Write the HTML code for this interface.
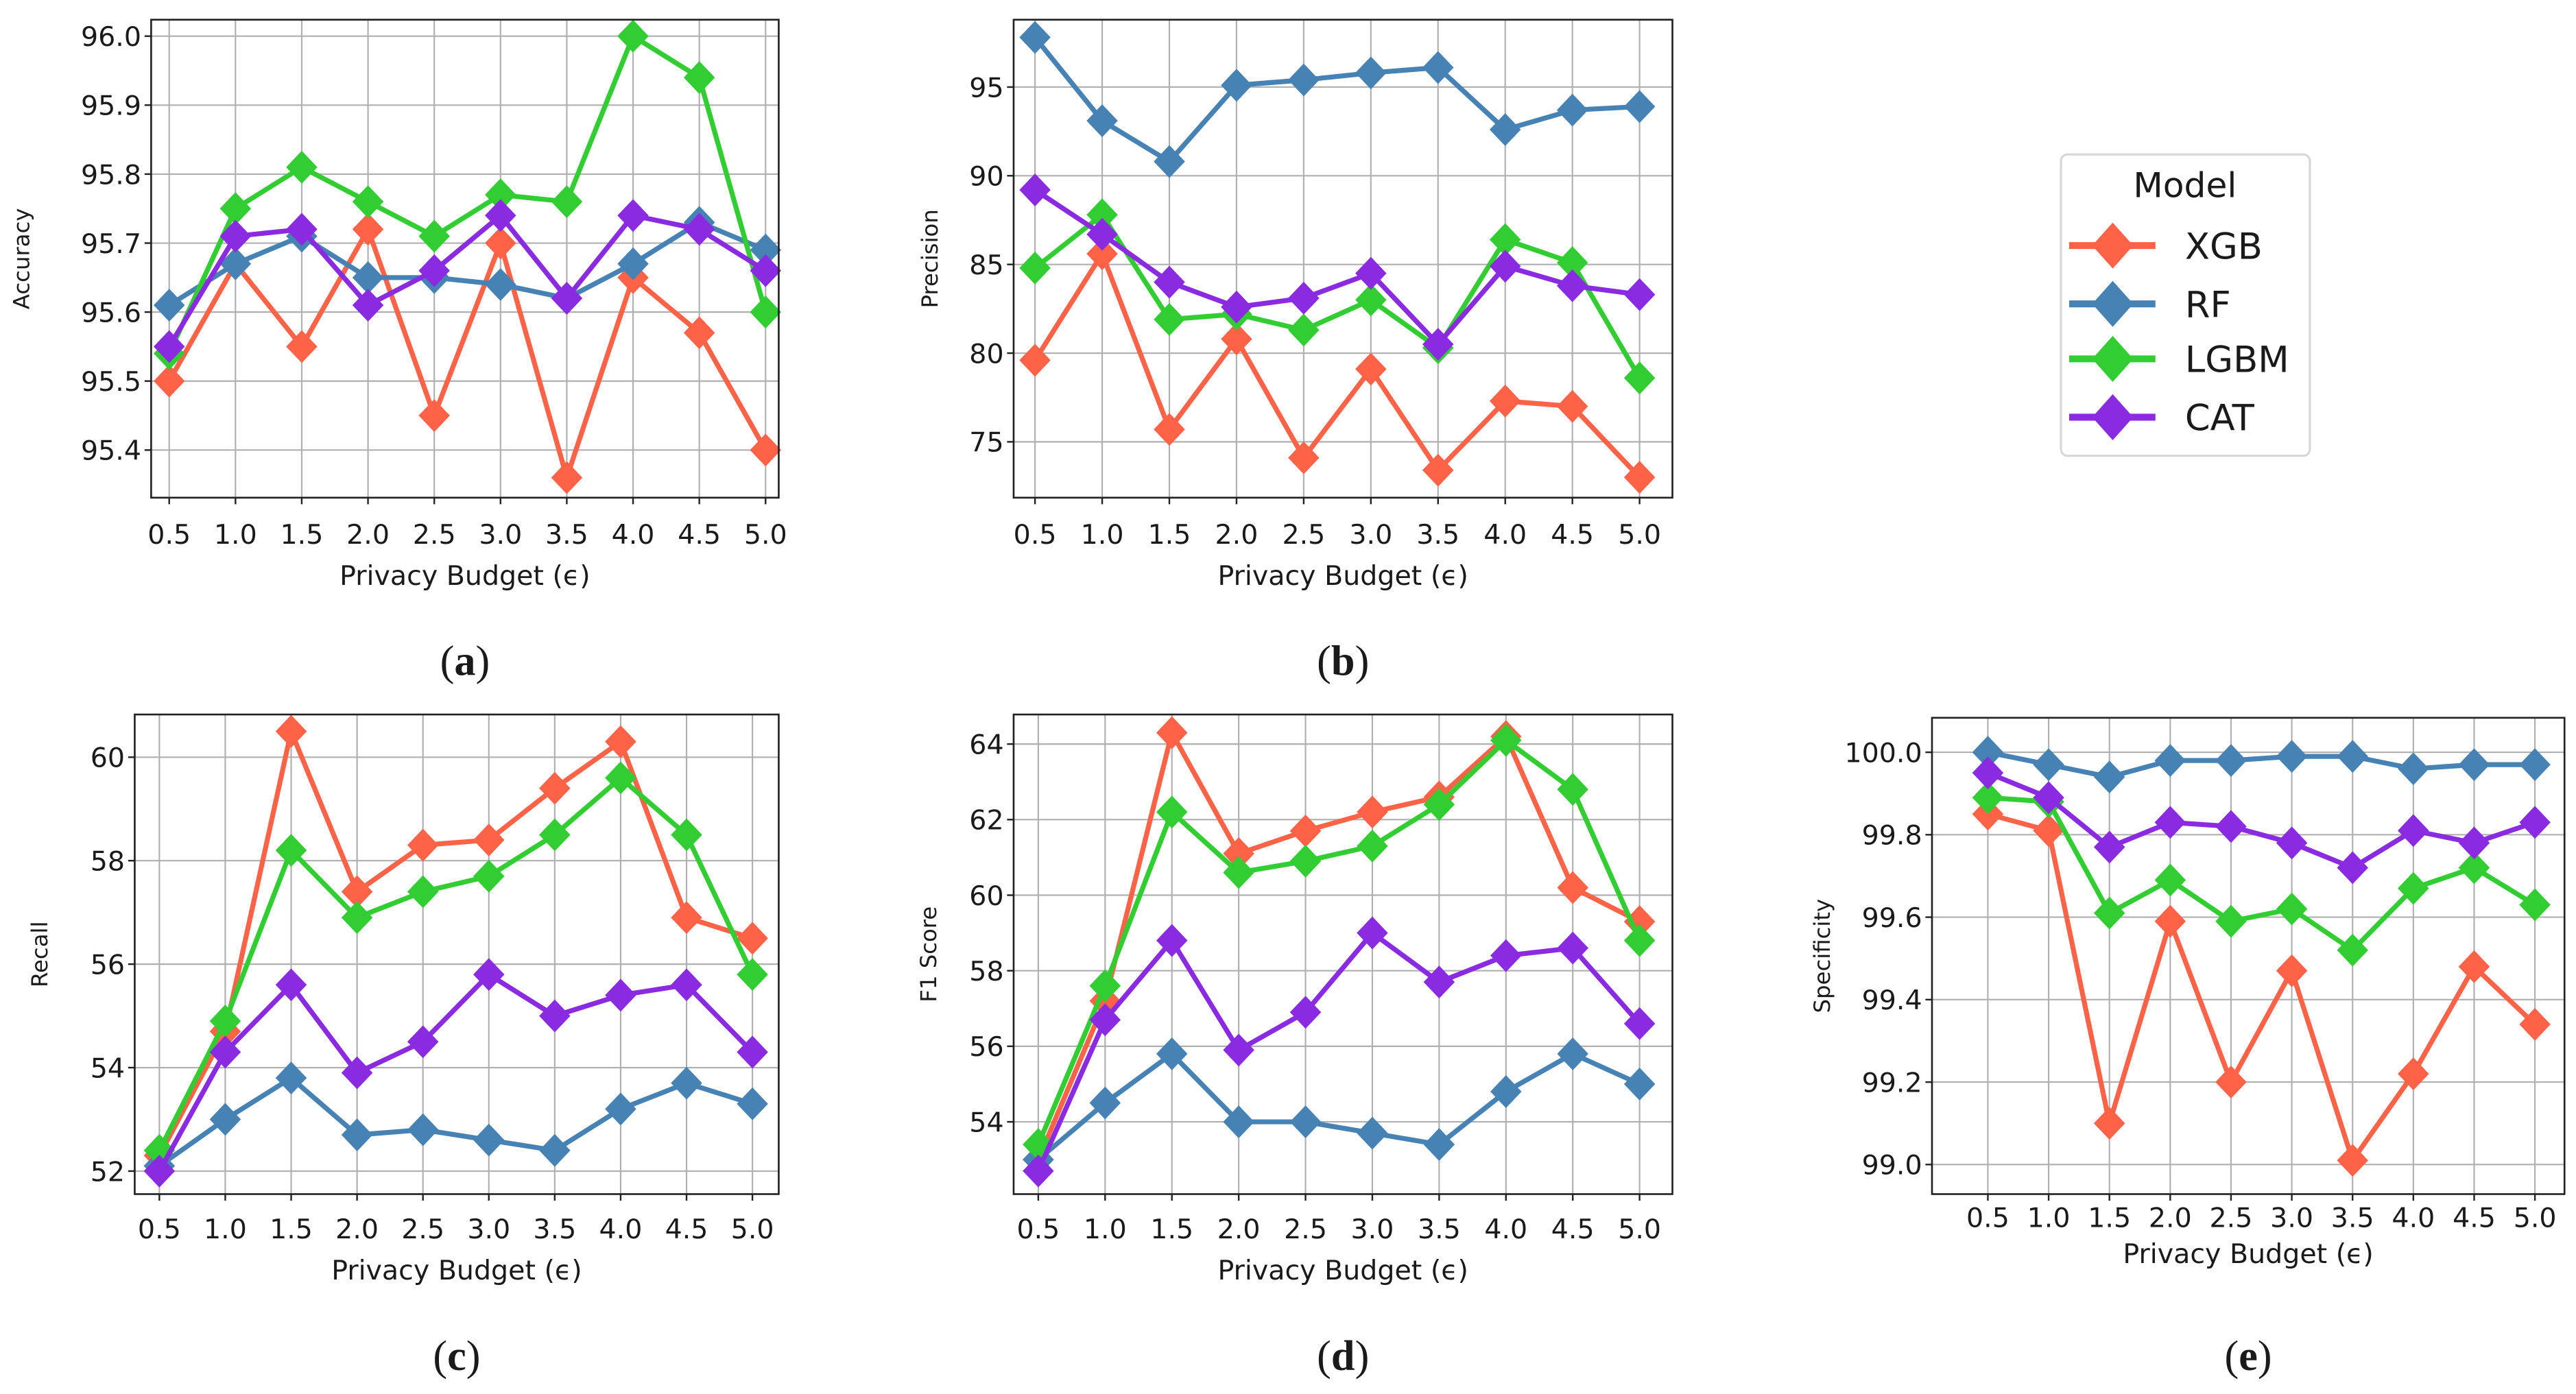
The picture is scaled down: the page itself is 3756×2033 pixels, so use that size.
<!DOCTYPE html>
<html><head><meta charset="utf-8">
<style>
html,body{margin:0;padding:0;background:#fff;}
svg{display:block;}
text{font-family:"DejaVu Sans","Liberation Sans",sans-serif;fill:#1a1a1a;}
.cap{font-family:"Liberation Serif",serif;font-size:26px;}
</style></head>
<body>
<svg id="fig" width="3756" height="2033" viewBox="0 0 1568 848.7" xmlns="http://www.w3.org/2000/svg"></svg>
<script>
const categories = [0.5,1.0,1.5,2.0,2.5,3.0,3.5,4.0,4.5,5.0];
const xTickLabels = ["0.5","1.0","1.5","2.0","2.5","3.0","3.5","4.0","4.5","5.0"];
const models = ["XGB","RF","LGBM","CAT"];
const colors = ["#ff6347","#4682b4","#32cd32","#8a2be2"];

const accXGB = [95.50,95.67,95.55,95.72,95.45,95.70,95.36,95.65,95.57,95.40];
const accRF = [95.61,95.67,95.71,95.65,95.65,95.64,95.62,95.67,95.73,95.69];
const accLGBM = [95.54,95.75,95.81,95.76,95.71,95.77,95.76,96.00,95.94,95.60];
const accCAT = [95.55,95.71,95.72,95.61,95.66,95.74,95.62,95.74,95.72,95.66];
const accTicks = [95.4,95.5,95.6,95.7,95.8,95.9,96.0];

const preXGB = [79.6,85.6,75.7,80.8,74.1,79.1,73.4,77.3,77.0,73.0];
const preRF = [97.8,93.1,90.8,95.1,95.4,95.8,96.1,92.6,93.7,93.9];
const preLGBM = [84.8,87.8,81.9,82.2,81.3,83.0,80.3,86.4,85.1,78.6];
const preCAT = [89.2,86.7,84.0,82.6,83.1,84.5,80.5,84.9,83.8,83.3];
const preTicks = [75,80,85,90,95];

const recXGB = [52.3,54.7,60.5,57.4,58.3,58.4,59.4,60.3,56.9,56.5];
const recRF = [52.1,53.0,53.8,52.7,52.8,52.6,52.4,53.2,53.7,53.3];
const recLGBM = [52.4,54.9,58.2,56.9,57.4,57.7,58.5,59.6,58.5,55.8];
const recCAT = [52.0,54.3,55.6,53.9,54.5,55.8,55.0,55.4,55.6,54.3];
const recTicks = [52,54,56,58,60];

const f1XGB = [53.0,57.2,64.3,61.1,61.7,62.2,62.6,64.2,60.2,59.3];
const f1RF = [53.0,54.5,55.8,54.0,54.0,53.7,53.4,54.8,55.8,55.0];
const f1LGBM = [53.4,57.6,62.2,60.6,60.9,61.3,62.4,64.1,62.8,58.8];
const f1CAT = [52.7,56.7,58.8,55.9,56.9,59.0,57.7,58.4,58.6,56.6];
const f1Ticks = [54,56,58,60,62,64];

const spXGB = [99.85,99.81,99.10,99.59,99.20,99.47,99.01,99.22,99.48,99.34];
const spRF = [100.0,99.97,99.94,99.98,99.98,99.99,99.99,99.96,99.97,99.97];
const spLGBM = [99.89,99.88,99.61,99.69,99.59,99.62,99.52,99.67,99.72,99.63];
const spCAT = [99.95,99.89,99.77,99.83,99.82,99.78,99.72,99.81,99.78,99.83];
const spTicks = [99.0,99.2,99.4,99.6,99.8,100.0];

const NS = "http://www.w3.org/2000/svg";
const svg = document.getElementById("fig");
function mk(tag, attrs, parent){ const e=document.createElementNS(NS,tag); for(const k in attrs) e.setAttribute(k,attrs[k]); (parent||svg).appendChild(e); return e; }

const panels = [
 {id:"accuracy", label:"Accuracy", cap:"a", series:[accXGB,accRF,accLGBM,accCAT], ticks:accTicks, dec:1,
  box:[92,12,474,303], x0:103, x1:466, v0:95.4, p0:274, v1:96.0, p1:22, ylx:14, capY:402, xtY:331, xlY:356},
 {id:"precision", label:"Precision", cap:"b", series:[preXGB,preRF,preLGBM,preCAT], ticks:preTicks, dec:0,
  box:[617,12,1018,303], x0:630, x1:998, v0:75, p0:269, v1:95, p1:53, ylx:567, capY:402, xtY:331, xlY:356},
 {id:"recall", label:"Recall", cap:"c", series:[recXGB,recRF,recLGBM,recCAT], ticks:recTicks, dec:0,
  box:[82,435,474,727], x0:97, x1:458, v0:52, p0:713, v1:60, p1:461, ylx:25, capY:825, xtY:754, xlY:779},
 {id:"f1-score", label:"F1 Score", cap:"d", series:[f1XGB,f1RF,f1LGBM,f1CAT], ticks:f1Ticks, dec:0,
  box:[617,435,1018,727], x0:632, x1:998, v0:54, p0:683, v1:64, p1:453, ylx:566, capY:825, xtY:754, xlY:779},
 {id:"specificity", label:"Specificity", cap:"e", series:[spXGB,spRF,spLGBM,spCAT], ticks:spTicks, dec:1,
  box:[1176,437,1561,727], x0:1210, x1:1543, v0:99.0, p0:709, v1:100.0, p1:458, ylx:1110, capY:825, xtY:747, xlY:769}
];

panels.forEach(P=>{
  const g = mk("g",{});
  
  
  const [L,T,R,B] = P.box;
  const xs = i => P.x0 + (P.x1-P.x0)*(categories[i]-categories[0])/(categories[categories.length-1]-categories[0]);
  const ys = v => P.p0 + (P.p1-P.p0)*(v-P.v0)/(P.v1-P.v0);
  const grid = mk("g",{},g);
  
  
  categories.forEach((c,i)=>{ mk("line",{x1:xs(i),x2:xs(i),y1:T,y2:B,stroke:"#b0b0b0","stroke-width":0.9},grid); });
  P.ticks.forEach(t=>{ mk("line",{x1:L,x2:R,y1:ys(t),y2:ys(t),stroke:"#b0b0b0","stroke-width":0.9},grid); });
  P.series.forEach((data,si)=>{
    const sg = mk("g",{},g);
    
    
    const pts = data.map((v,i)=>xs(i).toFixed(2)+","+ys(v).toFixed(2)).join(" ");
    const pl = mk("polyline",{points:pts,fill:"none",stroke:colors[si],"stroke-width":3,"stroke-linejoin":"round"},sg);
    
    
    data.forEach((v,i)=>{
      const cx=xs(i), cy=ys(v), h=10, w=9.5;
      const m = mk("polygon",{points:`${cx},${cy-h} ${cx+w},${cy} ${cx},${cy+h} ${cx-w},${cy}`,fill:colors[si]},sg);
      
      
    });
  });
  const fr = mk("rect",{x:L,y:T,width:R-L,height:B-T,fill:"none",stroke:"#222","stroke-width":1.1},g);
  
  
  categories.forEach((c,i)=>{
    mk("line",{x1:xs(i),x2:xs(i),y1:B,y2:B+4,stroke:"#222","stroke-width":1},g);
    const t = mk("text",{x:xs(i),y:P.xtY,"text-anchor":"middle","font-size":16.5},g);
    t.textContent = xTickLabels[i];
    
    
  });
  P.ticks.forEach(v=>{
    mk("line",{x1:L-4,x2:L,y1:ys(v),y2:ys(v),stroke:"#222","stroke-width":1},g);
    const t = mk("text",{x:L-6,y:ys(v)+6,"text-anchor":"end","font-size":16.5},g);
    t.textContent = v.toFixed(P.dec);
    
    
  });
  const xl = mk("text",{x:(L+R)/2,y:P.xlY,"text-anchor":"middle","font-size":16.5},g);
  xl.textContent = "Privacy Budget (\u03f5)";
  
  
  const yc=(T+B)/2;
  const yl = mk("text",{x:P.ylx,y:yc,"text-anchor":"middle","font-size":13.5,transform:`rotate(-90 ${P.ylx} ${yc})`,"dominant-baseline":"middle"},g);
  yl.textContent = P.label;
  
  
  const cp = mk("text",{x:(L+R)/2,y:P.capY+9,"text-anchor":"middle",class:"cap"},g);
  cp.innerHTML = '(<tspan font-weight="bold">'+P.cap+'</tspan>)';
  
  
});

const lg = mk("g",{});


mk("rect",{x:1254.5,y:94,width:151.5,height:183.5,rx:4,fill:"#fff",stroke:"#d6d6d6","stroke-width":1.3},lg);
const lt = mk("text",{x:1330,y:120,"text-anchor":"middle","font-size":21},lg);
lt.textContent = "Model";


const ly = [149.5,185,218.5,254];
models.forEach((m,i)=>{
  const e = mk("g",{},lg);
  
  
  mk("line",{x1:1259.5,x2:1312,y1:ly[i],y2:ly[i],stroke:colors[i],"stroke-width":4.2},e);
  const cx=1286, cy=ly[i];
  mk("polygon",{points:`${cx},${cy-14} ${cx+12.5},${cy} ${cx},${cy+14} ${cx-12.5},${cy}`,fill:colors[i]},e);
  const t = mk("text",{x:1330,y:ly[i]+8,"font-size":22},e);
  t.textContent = m;
  
  
});
</script>
</body></html>
